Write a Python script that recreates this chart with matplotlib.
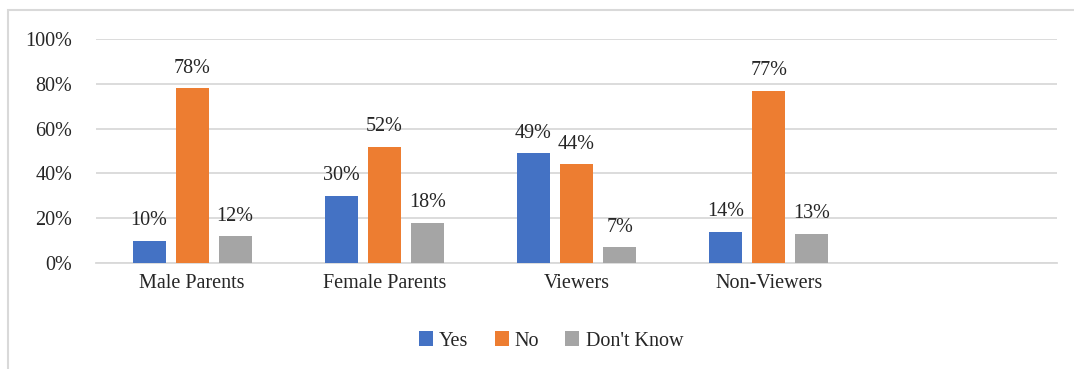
import numpy as np
import matplotlib.pyplot as plt
from matplotlib.patches import Rectangle

# survey answers by group (percent)
groups = ["Male Parents", "Female Parents", "Viewers", "Non-Viewers", ""]
yes = [10, 30, 49, 14]
no = [78, 52, 44, 77]
dont_know = [12, 18, 7, 13]

series = [("Yes", yes, "#4472C4"),
          ("No", no, "#ED7D31"),
          ("Don't Know", dont_know, "#A5A5A5")]

plt.rcParams['font.family'] = ['Liberation Serif', 'DejaVu Serif']
grid_col = "#d9d9d9"
fs = 14.5

fig = plt.figure(figsize=(10.74, 3.69), dpi=100)
ax = fig.add_axes([0.0894, 0.2873, 0.8948, 0.607])

# outer chart border (only top and left edges fall inside the frame)
fig.patches.append(Rectangle((8 / 1074, -0.2), 1.2, 1 - 10 / 369 + 0.2,
                             transform=fig.transFigure, fill=False,
                             edgecolor=grid_col, linewidth=1.5))

x = np.arange(len(yes))
width = 0.172
step = 0.224

for k, (name, vals, col) in enumerate(series):
    pos = x + (k - 1) * step
    bars = ax.bar(pos, vals, width, color=col, label=name, zorder=3)
    for b, v in zip(bars, vals):
        ax.annotate(f"{v}%", (b.get_x() + b.get_width() / 2, v),
                    xytext=(0, 7.5), textcoords="offset points",
                    ha="center", va="bottom", fontsize=fs, color="#262626")

ax.set_xlim(-0.5, len(groups) - 0.5)
ax.set_ylim(0, 100)
ax.set_yticks(np.arange(0, 101, 20))
ax.set_yticklabels([f"{t}%" for t in range(0, 101, 20)], fontsize=fs, color="#262626")
ax.set_xticks(np.arange(len(groups)))
ax.set_xticklabels(groups, fontsize=fs, color="#262626")
ax.tick_params(length=0, pad=8)
ax.tick_params(axis="y", pad=17)

ax.yaxis.grid(True, color=grid_col, linewidth=1.3, zorder=0)
for s in ["top", "right", "left"]:
    ax.spines[s].set_visible(False)
ax.spines["bottom"].set_color(grid_col)
ax.spines["bottom"].set_linewidth(1.3)

fig.legend(loc="center", bbox_to_anchor=(0.513, 0.076), ncol=3, frameon=False,
           fontsize=fs, handlelength=0.7, handleheight=0.7, handletextpad=0.3,
           columnspacing=1.3, labelcolor="#262626")

fig.savefig("out.png", dpi=100)
